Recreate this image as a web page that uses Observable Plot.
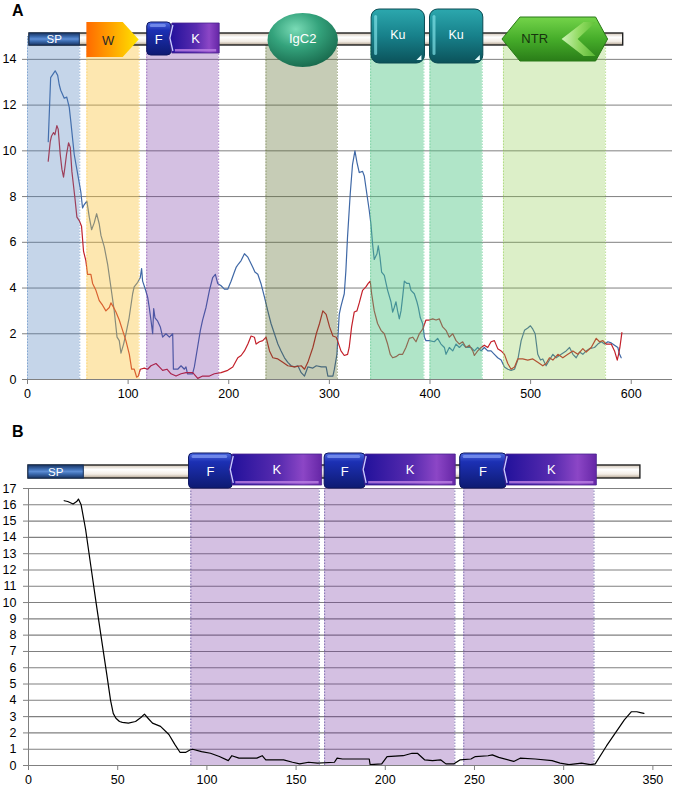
<!DOCTYPE html>
<html><head><meta charset="utf-8">
<script src="https://cdn.jsdelivr.net/npm/d3@7"></script>
<script src="https://cdn.jsdelivr.net/npm/@observablehq/plot@0.6"></script>
<style>
body{margin:0;background:#fff;font-family:"Liberation Sans",Arial,sans-serif;}
#wrap{position:relative;width:675px;height:789px;overflow:hidden;}
#wrap svg{position:absolute;left:0;}
.plabel{position:absolute;font-weight:bold;font-size:16px;color:#000;line-height:16px;}
</style></head><body>
<div id="wrap"><div class="plabel" style="left:12px;top:3px">A</div><div class="plabel" style="left:12px;top:424px">B</div></div>
<script>
// ---------- Panel A data (residue position, score) ----------
const blueA = [[20.6,10.4],[23,13.2],[27.5,13.5],[30,13.3],[31.5,12.9],[33,12.65],[36.5,12.3],[39,12.35],[41.5,11.9],[43,11.3],[46.4,9.85],[49.8,9.0],[53,8.2],[54.7,7.5],[56.4,7.65],[59,7.8],[61.4,7.1],[63.7,6.55],[66.3,6.85],[68.7,7.25],[71.3,6.8],[73,6.3],[76.3,5.8],[79.6,5.05],[83,4.0],[86.2,3.0],[89,1.85],[91.2,1.7],[92.9,1.15],[95.5,1.55],[97.8,2.0],[101,2.7],[104.5,3.75],[106,4.05],[109.5,4.25],[112,4.45],[113.4,4.85],[114.4,4.3],[116.7,4.0],[119.4,3.6],[121,3.15],[122.7,2.6],[124.4,2.0],[125.4,3.1],[126.7,2.7],[129.4,2.55],[132,2.3],[134.3,1.85],[137.6,2.0],[141,1.85],[144.3,2.0],[145,0.45],[149.3,0.45],[152.6,0.6],[155.9,0.45],[157.5,0.55],[159,0.25],[164,0.25],[165.8,0.55],[169,1.4],[171.8,2.15],[174,2.6],[177.4,3.15],[180.8,3.9],[184,4.45],[186.7,4.6],[189,4.2],[192.4,4.1],[195.7,3.95],[199,3.95],[202.3,4.3],[205.6,4.7],[207.3,4.9],[209.6,5.05],[212.3,5.2],[215.6,5.5],[219,5.35],[220.6,5.2],[224,4.9],[226,4.7],[228.9,4.6],[232,4.2],[235.5,3.6],[238.8,3.0],[242,2.45],[245.4,2.0],[248.8,1.55],[252,1.25],[255.4,0.95],[258.7,0.75],[262,0.6],[265.3,0.55],[268.7,0.6],[272,0.3],[275.3,0.15],[278.6,0.55],[283.6,0.5],[287,0.6],[292,0.55],[296.8,0.55],[298.5,0.15],[303.5,0.15],[305,0.45],[307.5,1.1],[309.8,2.85],[311.5,3.2],[314.8,3.75],[316.4,4.75],[318,6.2],[320.7,8.1],[323,9.4],[325.4,10.0],[327.4,9.5],[329.7,9.05],[333,9.1],[334.7,8.9],[337.3,8.1],[339.6,7.4],[341.3,6.8],[343,5.9],[344.6,5.25],[347.3,5.5],[348.6,5.85],[350.3,5.35],[351.9,4.7],[354.6,4.55],[357.9,3.9],[361.2,3.4],[362.9,2.95],[364.5,3.15],[366.2,3.4],[367.8,3.0],[369.5,2.65],[371.2,3.0],[372.8,3.6],[374.5,4.3],[377.1,4.2],[379.4,4.2],[381.1,3.9],[384.4,3.75],[387,3.4],[388.4,3.15],[390.4,2.7],[392.7,2.45],[394.4,1.85],[396,1.7],[399.3,1.7],[404.3,1.65],[407.6,1.8],[410.9,1.55],[414.3,1.4],[415.9,1.1],[419.2,1.4],[422.6,1.25],[425.9,1.55],[429.2,1.4],[432.5,1.55],[435.8,1.4],[440.8,1.4],[444.1,1.25],[447.4,1.4],[450.8,1.25],[454,1.4],[457.4,1.25],[460.7,1.25],[464,1.1],[467.3,0.95],[470.7,0.85],[474,0.55],[477.3,0.45],[480.6,0.4],[484,0.45],[487.2,0.85],[490.6,1.7],[493.9,2.15],[497.2,2.25],[499.8,2.35],[502.2,2.2],[504.5,2.0],[507.1,1.1],[509.8,0.85],[512.1,0.9],[515.4,0.6],[518.7,0.85],[522.1,1.1],[525.4,0.95],[530.4,1.1],[535.3,1.25],[538.7,1.4],[542,1.1],[545.3,0.95],[548.6,1.2],[551.9,1.1],[555.2,1.25],[558.5,1.35],[563.5,1.4],[566.8,1.55],[570.2,1.65],[573.5,1.55],[576.8,1.65],[580.1,1.6],[583.4,1.5],[586.7,1.4],[588.4,1.1],[590,0.95]];
const redA = [[20.6,9.55],[22.6,10.4],[23.9,10.65],[25.9,10.8],[27.2,10.7],[29.2,11.1],[30.5,10.95],[32.5,9.85],[34.2,9.2],[35.8,8.85],[37.1,9.25],[38.8,9.85],[40.8,10.35],[42.5,10.15],[44.1,9.1],[45.8,8.45],[47.1,7.95],[49.1,7.1],[51.4,6.95],[53.7,6.7],[55.7,5.6],[58,5.2],[59.7,4.6],[63,4.6],[64.7,4.2],[68,3.9],[71.3,3.45],[74.6,3.25],[77.9,3.0],[81.3,3.15],[82.9,3.35],[85.6,3.15],[87.9,2.95],[91.2,2.6],[94.5,2.15],[97.8,1.7],[101.2,1.1],[103.5,0.45],[106.1,0.45],[108.5,0.1],[110.1,0.15],[112.1,0.45],[116.1,0.5],[119.4,0.45],[122.7,0.6],[127.7,0.7],[131,0.55],[134.3,0.4],[138.6,0.45],[142.6,0.25],[147.6,0.15],[152.6,0.25],[157.5,0.3],[164.2,0.3],[169.2,0.05],[174.1,0.15],[180.8,0.15],[185.7,0.25],[192.4,0.3],[199,0.4],[204,0.55],[209,0.95],[212.3,1.05],[215.6,1.25],[219,1.55],[222.2,1.9],[225.5,1.85],[227.2,1.55],[230.5,1.65],[233.8,1.7],[237.1,1.85],[240.5,1.25],[243.8,0.95],[248.8,0.9],[253.7,0.75],[258.7,0.6],[265.3,0.55],[272,0.6],[275.3,0.45],[278.6,0.75],[283.6,1.4],[287,2.0],[290.2,2.45],[293.5,3.0],[296.8,2.85],[300.2,2.3],[303.5,1.9],[306.8,1.85],[308.1,1.7],[311.5,1.25],[314.8,1.05],[318.1,1.1],[319.7,1.4],[322.1,2.3],[324.7,2.95],[327.4,3.0],[329.7,3.35],[333,3.9],[336.3,4.05],[338.6,4.2],[340.6,4.3],[342,3.75],[344.6,3.0],[347.9,2.45],[351.3,2.15],[354.6,2.0],[357.9,1.55],[360.5,1.1],[362.9,0.95],[366.2,1.0],[369.5,1.1],[372.8,1.1],[376.1,1.4],[379.4,1.8],[382.8,1.85],[386.1,1.65],[389.4,2.0],[392.7,2.2],[396,2.6],[399.3,2.6],[402.7,2.65],[406,2.6],[409.3,2.65],[412.6,2.3],[415.9,2.15],[419.2,1.85],[422.6,2.0],[425.9,1.7],[429.2,1.55],[432.5,1.65],[435.8,1.4],[439.1,1.5],[442.5,1.25],[444.1,1.05],[447.4,1.25],[450.8,1.4],[454,1.5],[457.4,1.4],[460.7,1.65],[464,1.7],[467.3,1.35],[470.7,1.25],[474,1.1],[477.3,0.7],[480.6,0.45],[484,0.55],[487.2,0.9],[492.2,0.9],[497.2,0.85],[502.2,0.9],[507.1,0.75],[512.1,0.6],[515.4,0.7],[518.7,0.95],[522.1,0.85],[527.1,1.1],[532,0.95],[537,1.1],[542,1.25],[546.9,1.1],[551.9,1.35],[555.2,1.2],[560.2,1.4],[565.2,1.8],[568.5,1.65],[571.8,1.7],[575.1,1.55],[580.1,1.55],[583.4,1.25],[586.1,0.85],[587.4,1.1],[588.7,1.4],[590.7,2.05]];
const xTicksA = [0,100,200,300,400,500,600];
const yTicksA = [0,2,4,6,8,10,12,14];
// shaded domain regions (residues)
const shadeTypeA = ["SP","W","FK","IgC2","Ku","Ku","NTR"];
const shadeStartA = [0,59,118.5,237,341,400,473];
const shadeEndA   = [52,111,190,308,394,452,574.5];
// protein schematic (residues)
const proteinA = [2,592];
const glyphNameA  = ["SP","W","F","K","IgC2","Ku","Ku","NTR"];
const glyphStartA = [2,59,119,144,239,342,400,472];
const glyphEndA   = [52,111,143,191,309,395,453,577];

// ---------- Panel B data ----------
const lineB = [[20,16.25],[22,16.2],[25,16.05],[27,16.2],[28,16.35],[29.5,16.0],[32,14.5],[35,12.2],[38,9.9],[41.4,7.4],[44,5.5],[46,4.0],[47.5,3.2],[49,2.9],[51,2.7],[52.6,2.65],[56,2.6],[60,2.7],[63,2.95],[65,3.15],[67,2.9],[69.5,2.6],[74,2.4],[78.7,1.9],[82,1.3],[85,0.8],[88,0.8],[90.5,0.95],[92,1.0],[97,0.85],[102,0.75],[107,0.55],[112,0.3],[114,0.6],[118,0.45],[128,0.45],[131,0.6],[133,0.35],[143,0.35],[148,0.2],[152,0.1],[157,0.2],[162,0.15],[171.5,0.2],[173,0.45],[176,0.4],[191,0.4],[191.5,0.05],[198,0.1],[201,0.55],[210,0.6],[215,0.75],[218,0.75],[222,0.35],[226.5,0.3],[231,0.35],[234,0.1],[238.5,0.1],[242,0.35],[248,0.4],[250.5,0.55],[257.6,0.6],[260,0.65],[263.6,0.5],[272,0.25],[275.6,0.45],[284,0.4],[293.5,0.3],[298,0.15],[303,0.05],[310,0.15],[315,0.05],[317.7,0.1],[324,1.2],[329,2.0],[334,2.8],[338,3.3],[341,3.3],[343,3.25],[345,3.2]];
const xTicksB = [0,50,100,150,200,250,300,350];
const yTicksB = [0,1,2,3,4,5,6,7,8,9,10,11,12,13,14,15,16,17];
const shadeStartB = [91,166,244];
const shadeEndB   = [163,239,317];
const proteinB = [0,343];
const glyphNameB  = ["SP","F","K","F","K","F","K"];
const glyphStartB = [0,90,114.5,166,189,242,268];
const glyphEndB   = [31,114.5,164.6,189,239.5,268,318.6];

// ---------- styles ----------
const shadeFill = {SP:"#4f81bd", W:"#f9c33a", FK:"#7030a0", IgC2:"#5c6d2e", Ku:"#4fc585", NTR:"#8aca48"};
const shadeOpacity = {SP:0.33, W:0.4, FK:0.3, IgC2:0.35, Ku:0.45, NTR:0.3};
const font = "Liberation Sans, Arial, sans-serif";
const gridColor = "#808080";

const shadesA = shadeTypeA.map((t,i)=>({t, x1:shadeStartA[i], x2:shadeEndA[i]}));
const edgesA = shadesA.flatMap(d=>[{t:d.t,x:d.x1},{t:d.t,x:d.x2}]);
const shadesB = shadeStartB.map((s,i)=>({t:"FK", x1:s, x2:shadeEndB[i]}));
const edgesB = shadesB.flatMap(d=>[{t:d.t,x:d.x1},{t:d.t,x:d.x2}]);

const chartA = Plot.plot({
  width: 675, height: 410,
  marginTop: 36, marginBottom: 31, marginLeft: 27, marginRight: 3,
  style: {fontFamily: font, fontSize: "12.5px", background: "transparent", color: "#000", overflow: "visible"},
  x: {domain: [0, 641], ticks: xTicksA, tickSize: 5, tickPadding: 5, label: null},
  y: {domain: [0, 15], ticks: yTicksA, tickSize: 5, tickPadding: 6, label: null},
  marks: [
    Plot.ruleY(yTicksA.filter(d=>d>0), {stroke: gridColor, strokeWidth: 1}),
    Plot.line(blueA, {x: d=>d[0], y: d=>d[1], stroke: "#3f68a6", strokeWidth: 1.2}),
    Plot.line(redA, {x: d=>d[0], y: d=>d[1], stroke: "#c3202a", strokeWidth: 1.2}),
    Plot.rect(shadesA, {x1: "x1", x2: "x2", y1: 0, y2: 15, fill: d=>shadeFill[d.t], fillOpacity: d=>shadeOpacity[d.t]}),
    Plot.ruleX(edgesA, {x: "x", y1: 0, y2: 15, stroke: d=>shadeFill[d.t], strokeOpacity: 0.55, strokeDasharray: "1.5,1.5", strokeWidth: 1}),
    Plot.ruleY([0], {stroke: gridColor, strokeWidth: 1.2})
  ]
});

const chartB = Plot.plot({
  width: 675, height: 379,
  marginTop: 78, marginBottom: 24, marginLeft: 28, marginRight: 3,
  style: {fontFamily: font, fontSize: "12.5px", background: "transparent", color: "#000", overflow: "visible"},
  x: {domain: [0, 361], ticks: xTicksB, tickSize: 5, tickPadding: 5, label: null},
  y: {domain: [0, 17], ticks: yTicksB, tickSize: 5, tickPadding: 7, label: null},
  marks: [
    Plot.ruleY(yTicksB.filter(d=>d>0), {stroke: gridColor, strokeWidth: 1.1}),
    Plot.rect(shadesB, {x1: "x1", x2: "x2", y1: 0, y2: 17, fill: d=>shadeFill[d.t], fillOpacity: d=>shadeOpacity[d.t]}),
    Plot.ruleX(edgesB, {x: "x", y1: 0, y2: 17, stroke: "#5a4a9a", strokeOpacity: 0.7, strokeDasharray: "1.5,1.5", strokeWidth: 1}),
    Plot.line(lineB, {x: d=>d[0], y: d=>d[1], stroke: "#000", strokeWidth: 1.2}),
    Plot.ruleX([0], {y1: 0, y2: 17, stroke: gridColor}),
    Plot.ruleY([0], {stroke: gridColor, strokeWidth: 1.2})
  ]
});

function greyTicks(svg){
  d3.select(svg).selectAll('g[aria-label^="x-axis"] line, g[aria-label^="x-axis"] path, g[aria-label^="y-axis"] line, g[aria-label^="y-axis"] path')
    .attr("stroke", gridColor);
}

function addGradients(svg, p){
  const defs = d3.select(svg).append("defs");
  const lin = (id, stops, horiz) => {
    const g = defs.append("linearGradient").attr("id", p+id)
      .attr("x1","0").attr("y1","0").attr("x2", horiz?"1":"0").attr("y2", horiz?"0":"1");
    stops.forEach(([o,c]) => g.append("stop").attr("offset", o).attr("stop-color", c));
  };
  lin("bar", [[0,"#cfc3b4"],[0.35,"#ffffff"],[0.7,"#f3ede5"],[1,"#b3a491"]]);
  lin("sp", [[0,"#1b3563"],[0.3,"#3a69ad"],[0.5,"#5d8dd4"],[0.7,"#3a69ad"],[1,"#1b3563"]]);
  lin("w", [[0,"#ff6a00"],[0.5,"#ffa600"],[1,"#ffe400"]], true);
  lin("f", [[0,"#4d6ae0"],[0.25,"#1c30b4"],[1,"#0e1a72"]]);
  lin("k", [[0,"#20109a"],[0.55,"#5a2cb0"],[0.8,"#8c46c6"],[1,"#6526a6"]], true);
  lin("ku", [[0,"#2ca8ae"],[0.5,"#17808a"],[1,"#0b525a"]]);
  lin("ntr", [[0,"#74d44a"],[0.5,"#46ad2a"],[1,"#2a7d18"]]);
  lin("chev", [[0,"#e6ffd2"],[0.5,"#9ee26c"],[1,"#5fbf36"]], true);
  const r = defs.append("radialGradient").attr("id", p+"igc").attr("cx","0.4").attr("cy","0.3").attr("r","0.75");
  [[0,"#7adbb6"],[0.45,"#34a37c"],[1,"#17664a"]].forEach(([o,c]) => r.append("stop").attr("offset", o).attr("stop-color", c));
}

function drawProtein(svg, p, span, names, starts, ends, L){
  const sx = svg.scale("x");
  const X = v => sx.apply(v);
  const g = d3.select(svg).append("g").attr("font-family", font);
  const label = (x, y, t, fill, size) => g.append("text").attr("x", x).attr("y", y)
      .attr("text-anchor","middle").attr("dominant-baseline","central")
      .attr("fill", fill).attr("font-size", size).text(t);
  const poly = pts => pts.map(q => q.join(",")).join(" ");
  g.append("rect").attr("x", X(span[0])).attr("y", L.bar[0]).attr("width", X(span[1]) - X(span[0]))
    .attr("height", L.bar[1] - L.bar[0]).attr("fill", `url(#${p}bar)`).attr("stroke", "#222").attr("stroke-width", 1.4);
  names.forEach((n, i) => {
    const x0 = X(starts[i]), x1 = X(ends[i]), xm = (x0 + x1) / 2;
    const [t, b] = L[n]; const m = (t + b) / 2;
    if (n === "SP") {
      g.append("rect").attr("x", x0).attr("y", t).attr("width", x1 - x0).attr("height", b - t)
        .attr("fill", `url(#${p}sp)`).attr("stroke", "#15305a").attr("stroke-width", 1);
      label(xm, m, "SP", "#fff", 11.5);
    } else if (n === "W") {
      const xr = x1 - 16;
      g.append("polygon").attr("points", poly([[x0,t],[xr,t],[x1,m],[xr,b],[x0,b]])).attr("fill", `url(#${p}w)`);
      label(x0 + (xr - x0) * 0.6, m + 1, "W", "#2a2a2a", 13);
    } else if (n === "F") {
      g.append("rect").attr("x", x0).attr("y", t).attr("width", x1 - x0).attr("height", b - t).attr("rx", 4)
        .attr("fill", `url(#${p}f)`).attr("stroke", "#0c1660").attr("stroke-width", 1);
      g.append("rect").attr("x", x0 + 3).attr("y", t + 2).attr("width", x1 - x0 - 8).attr("height", 3).attr("rx", 1.5)
        .attr("fill", "#7d95f0").attr("opacity", 0.8);
      label(xm, m + 1, "F", "#fff", 13);
    } else if (n === "K") {
      g.append("polygon").attr("points", poly([[x0,t],[x1,t],[x1,b],[x0,b],[x0-3,m]]))
        .attr("fill", `url(#${p}k)`).attr("stroke", "#4a2490").attr("stroke-width", 0.8);
      g.append("polyline").attr("points", poly([[x0+1,t+2],[x0-2,m],[x0+1,b-2]])).attr("fill","none")
        .attr("stroke", "#c8ccff").attr("stroke-width", 1.3);
      g.append("rect").attr("x", x0 + 3).attr("y", b - 4).attr("width", x1 - x0 - 6).attr("height", 2.5)
        .attr("fill", "#b77be0").attr("opacity", 0.85);
      label(xm, m, "K", "#fff", 13);
    } else if (n === "IgC2") {
      g.append("ellipse").attr("cx", xm).attr("cy", m).attr("rx", (x1 - x0) / 2).attr("ry", (b - t) / 2)
        .attr("fill", `url(#${p}igc)`);
      label(xm, m - 2, "IgC2", "#fff", 13);
    } else if (n === "Ku") {
      g.append("rect").attr("x", x0).attr("y", t).attr("width", x1 - x0).attr("height", b - t).attr("rx", 8)
        .attr("fill", `url(#${p}ku)`).attr("stroke", "#0a4a52").attr("stroke-width", 1);
      g.append("rect").attr("x", x0 + 3).attr("y", t + 6).attr("width", 3).attr("height", b - t - 14).attr("rx", 1.5)
        .attr("fill", "#7fe0e6").attr("opacity", 0.7);
      g.append("polygon").attr("points", poly([[x1-3,b-8],[x1-3,b-3],[x1-8,b-3]])).attr("fill", "#e8ffff");
      label(xm, m - 1, "Ku", "#fff", 12.5);
    } else if (n === "NTR") {
      g.append("polygon").attr("points", poly([[x0,m],[x0+18,t],[x1-12,t],[x1,m],[x1-12,b],[x0+18,b]]))
        .attr("fill", `url(#${p}ntr)`).attr("stroke", "#2a7a18").attr("stroke-width", 1);
      g.append("polygon").attr("points", poly([[x1-46,m],[x1-24,t+5],[x1-12,t+5],[x1-30,m],[x1-12,b-5],[x1-24,b-5]]))
        .attr("fill", `url(#${p}chev)`).attr("opacity", 0.85);
      label(x0 + (x1 - x0) * 0.31, m - 1, "NTR", "#17330e", 13);
    }
  });
}

const wrap = document.getElementById("wrap");
chartA.style.top = "0px";
chartB.style.top = "410px";
wrap.appendChild(chartA);
wrap.appendChild(chartB);
greyTicks(chartA); greyTicks(chartB);
addGradients(chartA, "a_"); addGradients(chartB, "b_");
drawProtein(chartA, "a_", proteinA, glyphNameA, glyphStartA, glyphEndA,
  {bar:[33,45], SP:[33,45], W:[22,57], F:[22,55], K:[23,53], IgC2:[13,67], Ku:[9,63], NTR:[17,61]});
drawProtein(chartB, "b_", proteinB, glyphNameB, glyphStartB, glyphEndB,
  {bar:[55,68], SP:[55,68], F:[43,78], K:[44,75]});
</script></body></html>
